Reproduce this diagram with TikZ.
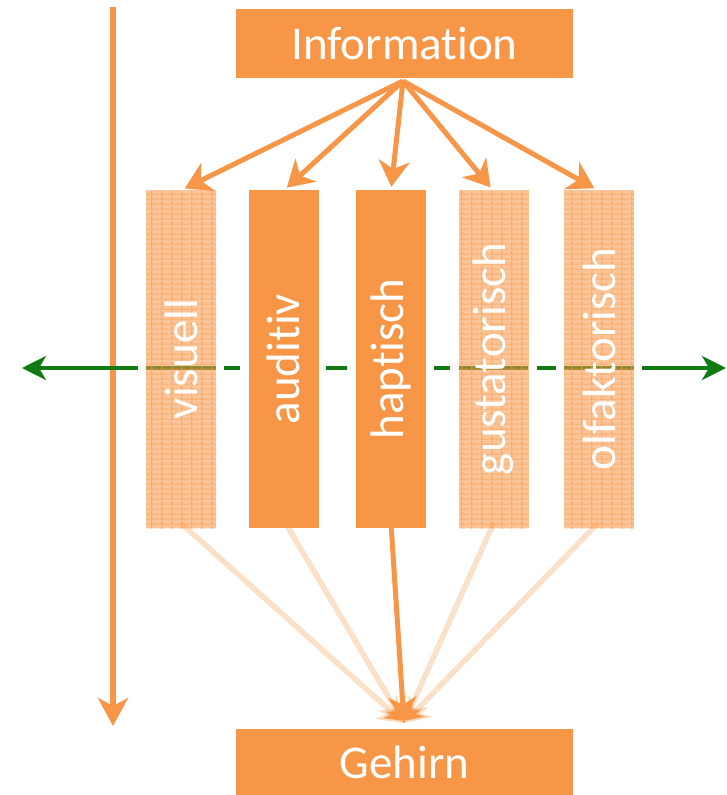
\documentclass[tikz,border=0pt]{standalone}
\usepackage{fontspec}
\setmainfont{Carlito}[Ligatures=NoCommon]
\usetikzlibrary{arrows.meta,patterns.meta}

\definecolor{sense}{HTML}{F79646}
\definecolor{axis}{RGB}{18,122,18}

% fine woven texture for the faded channels
\pgfdeclarepattern{name=weave, type=uncolored,
  bottom left={\pgfpoint{0pt}{0pt}}, top right={\pgfpoint{10pt}{5pt}},
  tile size={\pgfpoint{10pt}{5pt}},
  code={\pgfsetlinewidth{1.3pt}
    \pgfpathmoveto{\pgfpoint{0pt}{1pt}}\pgfpathlineto{\pgfpoint{10pt}{1pt}}
    \pgfpathmoveto{\pgfpoint{2pt}{0pt}}\pgfpathlineto{\pgfpoint{2pt}{5pt}}
    \pgfusepath{stroke}}}

\tikzset{
  x=1pt, y=-1pt,
  titlebox/.style={fill=sense, text=white, minimum width=337pt, inner sep=0pt,
    font=\fontsize{47}{50}\selectfont},
  channel/.style={fill=sense, minimum width=70pt, minimum height=338pt, inner sep=0pt},
  faded/.style={fill=sense, fill opacity=0.55, minimum width=70pt, minimum height=338pt,
    inner sep=0pt, postaction={pattern={weave}, pattern color=sense}},
  chlabel/.style={rotate=90, text=white, font=\fontsize{47}{50}\selectfont},
  feed/.style={draw=sense, line width=5pt,
    -{Stealth[length=26pt, width=31pt, inset=8pt]}, shorten >=3pt},
  ghost/.style={draw=sense, line width=5.5pt, draw opacity=0.35,
    dash pattern=on 1.5pt off 0.6pt,
    -{Stealth[length=24pt, width=32pt, inset=8pt]}},
  greenline/.style={draw=axis, line width=4pt},
}

\begin{document}
\begin{tikzpicture}
\useasboundingbox (0,0) rectangle (727,795);

% time axis on the left
\coordinate (tstart) at (113,7);
\coordinate (tend) at (113,726);
\draw[draw=sense, line width=5.5pt, -{Stealth[length=28pt, width=30pt, inset=8pt]}] (tstart) -- (tend);

% green horizontal axis, drawn under the channels
\coordinate (gl) at (22,368);
\coordinate (gr) at (726,368);
\coordinate (g1) at (138,368);
\coordinate (g2) at (642,368);
\draw[greenline, {Stealth[length=24pt, width=24pt, inset=7pt]}-] (gl) -- (g1);
\draw[greenline, -{Stealth[length=24pt, width=24pt, inset=7pt]}] (g2) -- (gr);
\foreach \a/\b in {146/216, 224/240, 326/347, 434/450, 459/528, 537/556, 564/634}
  \draw[greenline] (\a,368) -- (\b,368);

% title boxes
\node[titlebox, minimum height=69pt] (info) at (404.5,43.5) {Information};
\node[titlebox, minimum height=66pt] (brain) at (404.5,762) {Gehirn};

% sensory channels
\node[faded]   (vis) at (181,359) {};
\node[channel] (aud) at (283.5,359) {};
\node[channel] (hap) at (391,359) {};
\node[faded]   (gus) at (493.5,359) {};
\node[faded]   (olf) at (599,359) {};

\node[chlabel] (lvis) at (vis.center) {visuell};
\node[chlabel] (laud) at (aud.center) {auditiv};
\node[chlabel] (lhap) at (hap.center) {haptisch};
\node[chlabel] (lgus) at (gus.center) {gustatorisch};
\node[chlabel] (lolf) at (olf.center) {olfaktorisch};

% information reaches every channel
\coordinate (src) at (403,81);
\draw[feed] (src) -- ([xshift=1pt]vis.north);
\draw[feed] (src) -- ([xshift=1pt]aud.north);
\draw[feed] (src) -- (hap.north);
\draw[feed] (src) -- ([xshift=-1pt]gus.north);
\draw[feed] (src) -- ([xshift=-2pt]olf.north);

% channels to the brain
\coordinate (dst) at (404,723);
\draw[ghost] ([yshift=5pt]vis.south) -- (dst);
\draw[ghost] ([yshift=5pt,xshift=2pt]aud.south) -- (dst);
\draw[ghost] ([yshift=5pt]gus.south) -- (dst);
\draw[ghost] ([yshift=5pt,xshift=-1pt]olf.south) -- (dst);
\draw[draw=sense, line width=5pt, -{Stealth[length=26pt, width=28pt, inset=8pt]}]
  ([yshift=5pt]hap.south) -- (dst);
\end{tikzpicture}
\end{document}
